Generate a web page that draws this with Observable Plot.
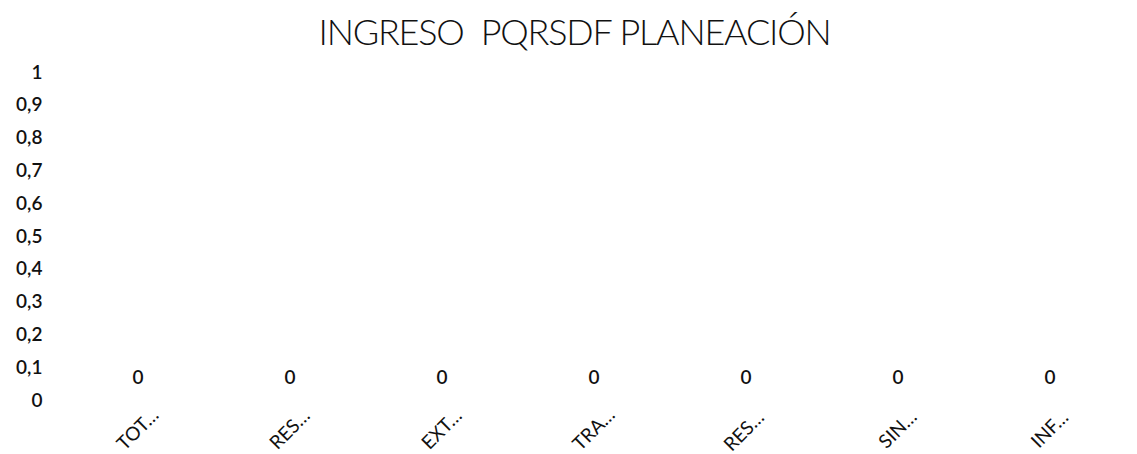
<!DOCTYPE html>
<html>
<head>
<meta charset="utf-8">
<script src="https://cdn.jsdelivr.net/npm/d3@7"></script>
<script src="https://cdn.jsdelivr.net/npm/@observablehq/plot@0.6"></script>
<style>
  html, body { margin: 0; padding: 0; background: #fff; }
  #wrap { width: 1137px; height: 454px; position: relative; overflow: hidden; }
  #title {
    height: 60px; line-height: 62px; text-align: center;
    font-family: Lato, sans-serif; font-weight: 300;
    font-size: 36px; color: #111; padding-left: 12px; letter-spacing: -1.2px;
  }
</style>
</head>
<body>
<div id="wrap">
  <div id="title">INGRESO&nbsp; PQRSDF PLANEACIÓN</div>
  <div id="chart"></div>
</div>
<script>
const title = "INGRESO  PQRSDF PLANEACIÓN";
const categories = ["TOT…", "RES…", "EXT…", "TRA…", "RES… ", "SIN…", "INF…"];
const values = [0, 0, 0, 0, 0, 0, 0];
const yTicks = [0, 0.1, 0.2, 0.3, 0.4, 0.5, 0.6, 0.7, 0.8, 0.9, 1];
const yTickLabels = ["0", "0,1", "0,2", "0,3", "0,4", "0,5", "0,6", "0,7", "0,8", "0,9", "1"];

const data = categories.map((c, i) => ({cat: c, value: values[i]}));
const font = "Lato, 'Open Sans', sans-serif";

const chart = Plot.plot({
  width: 1137,
  height: 394,
  marginTop: 12,
  marginBottom: 54,
  marginLeft: 62,
  marginRight: 11,
  style: {fontFamily: font, fontSize: "19px", color: "#111", background: "transparent"},
  x: {domain: categories, padding: 0.4, paddingOuter: 0.2, axis: null},
  y: {domain: [0, 1], axis: null},
  marks: [
    Plot.barY(data, {x: "cat", y: "value", fill: "#4472C4"}),
    Plot.axisY({
      ticks: yTicks,
      tickFormat: (d) => yTickLabels[yTicks.indexOf(d)],
      tickSize: 0,
      tickPadding: 20,
      label: null,
      fontSize: 19,
      fontWeight: 600
    }),
    Plot.text(data, {
      x: "cat", y: "value", text: (d) => String(d.value),
      dy: -23, fontSize: 19, fontWeight: 600, fill: "#111"
    }),
    Plot.text(data, {
      x: "cat", y: () => 0, text: "cat",
      dy: 29, rotate: -45, textAnchor: "middle", fontSize: 19, fill: "#111"
    })
  ]
});
document.getElementById("chart").appendChild(chart);
</script>
</body>
</html>
